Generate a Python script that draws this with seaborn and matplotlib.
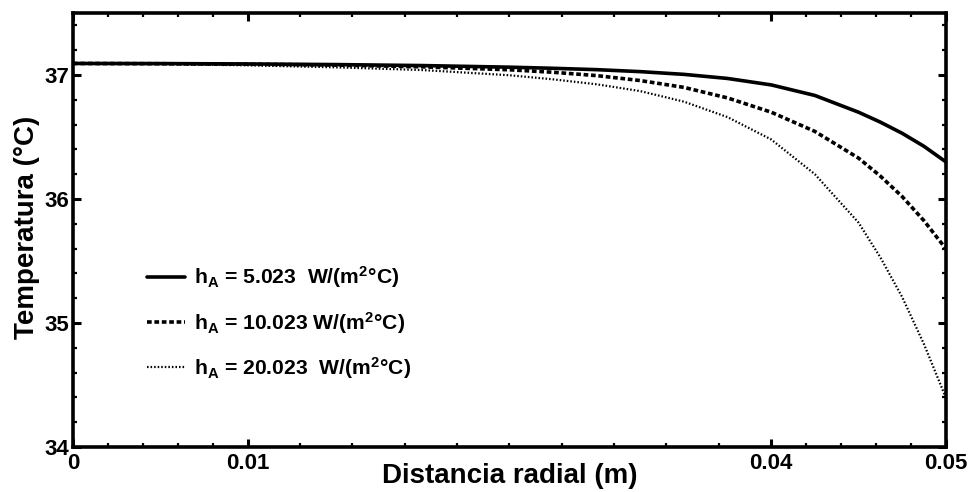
import matplotlib
matplotlib.use("Agg")
import matplotlib.pyplot as plt
from matplotlib.ticker import FixedLocator
import numpy as np
import seaborn as sns

# radial distance (m)
r = [0.0, 0.005, 0.01, 0.015, 0.02, 0.025, 0.0275, 0.03, 0.0325, 0.035, 0.0375,
     0.04, 0.0425, 0.045, 0.04625, 0.0475, 0.04875, 0.05]

# temperature (°C) for each convection coefficient h_A
t_h5 = [37.093, 37.092, 37.089, 37.084, 37.076, 37.063, 37.054, 37.043, 37.027, 37.005,
        36.972, 36.920, 36.835, 36.700, 36.620, 36.530, 36.425, 36.300]
t_h10 = [37.093, 37.091, 37.087, 37.080, 37.066, 37.042, 37.022, 36.995, 36.955, 36.900,
         36.815, 36.700, 36.545, 36.330, 36.185, 36.020, 35.825, 35.600]
t_h20 = [37.093, 37.088, 37.078, 37.062, 37.040, 36.998, 36.965, 36.925, 36.870, 36.785,
         36.660, 36.480, 36.200, 35.810, 35.530, 35.210, 34.830, 34.400]

labels = [r"h$_\mathregular{A}$ = 5.023  W/(m$^\mathregular{2}$°C)",
          r"h$_\mathregular{A}$ = 10.023 W/(m$^\mathregular{2}$°C)",
          r"h$_\mathregular{A}$ = 20.023  W/(m$^\mathregular{2}$°C)"]

x_major = [0.0, 0.01, 0.04, 0.05]
x_major_labels = ["0", "0.01", "0.04", "0.05"]
y_major = [34, 35, 36, 37]

sns.set_style("ticks")
plt.rcParams["font.family"] = ["Liberation Sans", "DejaVu Sans"]
plt.rcParams["font.weight"] = "bold"
plt.rcParams["mathtext.default"] = "regular"
for key in ["text.color", "axes.labelcolor", "xtick.color", "ytick.color", "axes.edgecolor"]:
    plt.rcParams[key] = "black"

fig = plt.figure(figsize=(9.74, 4.92), dpi=100)
ax = fig.add_axes([0.075, 0.0915, 0.896, 0.8821])

styles = [
    dict(lw=2.6, linestyle="-"),
    dict(lw=2.6, linestyle=(0, (1.3, 0.75))),
    dict(lw=1.6, linestyle=(0, (0.7, 0.9))),
]
for temps, lab, st in zip([t_h5, t_h10, t_h20], labels, styles):
    sns.lineplot(x=r, y=temps, ax=ax, color="black", label=lab, **st)

ax.set_xlim(0, 0.05)
ax.set_ylim(34, 37.5)

ax.xaxis.set_major_locator(FixedLocator(x_major))
ax.set_xticklabels(x_major_labels)
x_minor = list(np.arange(0.002, 0.0099, 0.002)) + list(np.arange(0.013, 0.0399, 0.003)) \
    + list(np.arange(0.042, 0.0499, 0.002))
ax.xaxis.set_minor_locator(FixedLocator(x_minor))

ax.yaxis.set_major_locator(FixedLocator(y_major))
ax.yaxis.set_minor_locator(FixedLocator([v for v in np.arange(34.2, 37.45, 0.2)
                                         if abs(v - round(v)) > 1e-6]))

for s in ax.spines.values():
    s.set_linewidth(2.6)
    s.set_visible(True)
    s.set_color("black")

ax.tick_params(which="both", direction="in", top=True, right=True, colors="black")
ax.tick_params(which="major", length=6, width=2.2, labelsize=16, pad=4)
ax.tick_params(which="minor", length=3, width=1.6)
ax.tick_params(axis="y", which="major", pad=3)
for lbl in ax.get_xticklabels() + ax.get_yticklabels():
    lbl.set_fontweight("bold")

ax.set_xlabel("Distancia radial (m)", fontsize=20, fontweight="bold")
ax.set_ylabel("Temperatura (°C)", fontsize=20, fontweight="bold")
ax.xaxis.set_label_coords(0.5, -0.038)
ax.yaxis.set_label_coords(-0.038, 0.505)

ax.legend(loc="upper left", bbox_to_anchor=(0.075, 0.44), frameon=False,
          prop=dict(family="Liberation Sans", weight="bold", size=15.2),
          handlelength=1.8, handletextpad=0.45, labelspacing=0.92, borderaxespad=0)

fig.savefig("out.png", dpi=100)
